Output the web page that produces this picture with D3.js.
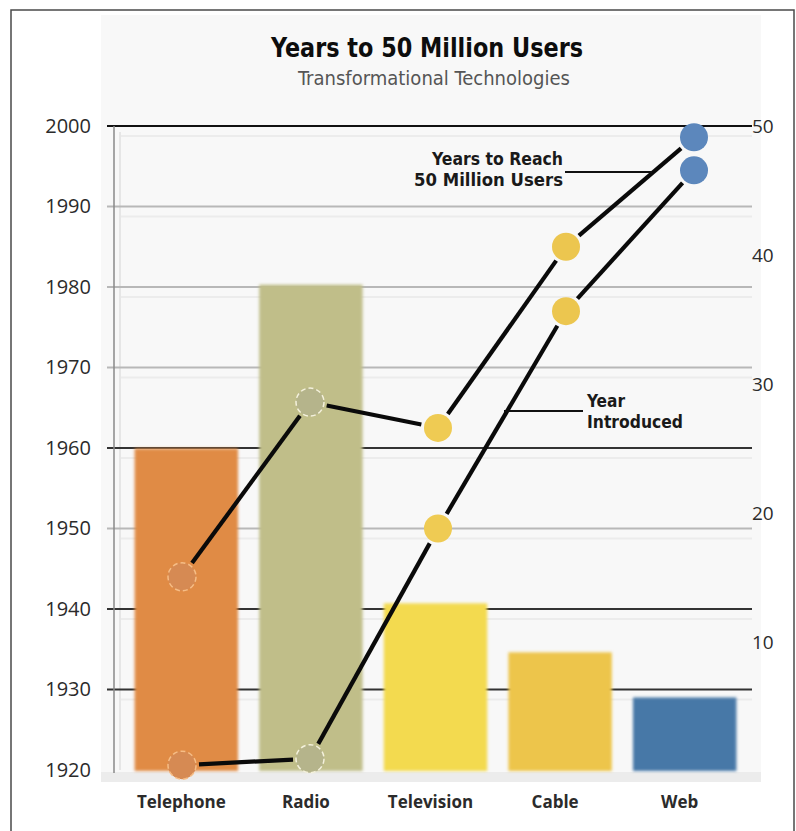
<!DOCTYPE html>
<html>
<head>
<meta charset="utf-8">
<script src="https://cdn.jsdelivr.net/npm/d3@7/dist/d3.min.js"></script>
<style>
  body { margin: 0; background: #fff; }
  svg { display: block; }
</style>
</head>
<body>
<div id="chart"></div>
<script>
// data
var technologies = ['Telephone', 'Radio', 'Television', 'Cable', 'Web'];
// bars, right axis: years to reach 50 million users (as drawn)
var yearsToReach = [25, 37.7, 13, 9.2, 5.7];
// lines, left axis
var yearIntroduced = [1920.6, 1921.4, 1950, 1977, 1994.5];
var yearReached = [1944, 1965.7, 1962.5, 1985, 1998.6];
var yearTicks = [1920, 1930, 1940, 1950, 1960, 1970, 1980, 1990, 2000];
var userTicks = [10, 20, 30, 40, 50];

var barColors = ['#e08b45', '#c0be89', '#f3da50', '#edc54b', '#4678a7'];
var dotColors = ['#d68a52', '#b5b48b', '#efcb52', '#ecc650', '#5b87bc'];
var darkLines = [2000, 1960, 1940, 1930];

var width = 796, height = 831;
var numFont = "'Open Sans', 'DejaVu Sans', sans-serif";
var narrowFont = "'Liberation Sans Narrow', 'DejaVu Sans Condensed', 'Liberation Sans', sans-serif";

var yYear = d3.scaleLinear().domain([1920, 2000]).range([770, 126]);
var yUsers = d3.scaleLinear().domain([0, 50]).range([771, 126]);
var xBand = d3.scaleBand().domain(technologies).range([124, 747])
    .paddingInner(0.17).paddingOuter(0.085);
var xPoint = d3.scalePoint().domain(technologies).range([182, 694]);

var svg = d3.select('#chart').append('svg')
    .attr('width', width)
    .attr('height', height);

var defs = svg.append('defs');
defs.append('filter').attr('id', 'soft')
    .attr('x', '-10%').attr('y', '-10%').attr('width', '120%').attr('height', '120%')
    .append('feGaussianBlur').attr('stdDeviation', 1.4);
defs.append('filter').attr('id', 'softer')
    .attr('x', '-20%').attr('y', '-20%').attr('width', '140%').attr('height', '140%')
    .append('feGaussianBlur').attr('stdDeviation', 0.7);

// outer frame
svg.append('rect')
    .attr('x', 11).attr('y', 10)
    .attr('width', 783).attr('height', 840)
    .attr('fill', 'none')
    .attr('stroke', '#4a4a4a')
    .attr('stroke-width', 1.5);

// plot panel
svg.append('rect')
    .attr('x', 101).attr('y', 15)
    .attr('width', 660).attr('height', 767)
    .attr('fill', '#f8f8f8');
svg.append('rect')
    .attr('x', 101).attr('y', 772)
    .attr('width', 660).attr('height', 10)
    .attr('fill', '#ececec');

// title
svg.append('text')
    .attr('x', 427).attr('y', 57)
    .attr('text-anchor', 'middle')
    .attr('textLength', 312)
    .attr('lengthAdjust', 'spacingAndGlyphs')
    .style('font-family', narrowFont)
    .style('font-size', '26px')
    .style('font-weight', 'bold')
    .style('fill', '#0d0d0d')
    .text('Years to 50 Million Users');

svg.append('text')
    .attr('x', 434).attr('y', 85)
    .attr('text-anchor', 'middle')
    .attr('textLength', 272)
    .attr('lengthAdjust', 'spacingAndGlyphs')
    .style('font-family', narrowFont)
    .style('font-size', '19px')
    .style('fill', '#555')
    .text('Transformational Technologies');

// grid
var grid = svg.append('g').attr('class', 'grid');
var gridTicks = yearTicks.filter(function (d) { return d > 1920; });

grid.selectAll('.shade')
    .data(gridTicks)
    .enter()
    .append('line')
    .attr('x1', 120).attr('x2', 752)
    .attr('y1', function (d) { return yYear(d) + 10; })
    .attr('y2', function (d) { return yYear(d) + 10; })
    .attr('stroke', '#ececec')
    .attr('stroke-width', 2);

grid.append('line')
    .attr('x1', 120).attr('x2', 120)
    .attr('y1', yYear(2000) + 6).attr('y2', yYear(1920))
    .attr('stroke', '#e6e6e6')
    .attr('stroke-width', 2);

grid.selectAll('.gridline')
    .data(gridTicks)
    .enter()
    .append('line')
    .attr('x1', 107).attr('x2', 752)
    .attr('y1', function (d) { return yYear(d); })
    .attr('y2', function (d) { return yYear(d); })
    .attr('stroke', function (d) {
        if (d == 2000) return '#111';
        return darkLines.indexOf(d) >= 0 ? '#333' : '#b8b8b8';
    })
    .attr('stroke-width', function (d) { return d == 2000 ? 2.2 : 1.8; });

grid.append('line')
    .attr('x1', 114).attr('x2', 114)
    .attr('y1', yYear(2000)).attr('y2', yYear(1920) + 3)
    .attr('stroke', '#8a8a8a')
    .attr('stroke-width', 1.5);

// left axis: year
var leftAxis = svg.append('g')
    .attr('transform', 'translate(114,0)')
    .call(d3.axisLeft(yYear).tickValues(yearTicks).tickSize(0).tickPadding(23).tickFormat(d3.format('d')));
leftAxis.select('.domain').remove();
leftAxis.selectAll('text')
    .style('font-family', numFont)
    .style('font-size', '20px')
    .style('fill', '#2b2b2b');

// right axis: years to reach 50M users
var rightAxis = svg.append('g')
    .attr('transform', 'translate(752,0)')
    .call(d3.axisRight(yUsers).tickValues(userTicks).tickSize(0).tickPadding(0));
rightAxis.select('.domain').remove();
rightAxis.selectAll('text')
    .style('font-family', numFont)
    .style('font-size', '19px')
    .style('fill', '#2b2b2b');

// bars
svg.append('g')
    .attr('filter', 'url(#soft)')
    .selectAll('rect')
    .data(technologies)
    .enter()
    .append('rect')
    .attr('x', function (d) { return xBand(d); })
    .attr('width', xBand.bandwidth())
    .attr('y', function (d, i) { return yUsers(yearsToReach[i]); })
    .attr('height', function (d, i) { return yUsers(0) - yUsers(yearsToReach[i]); })
    .attr('fill', function (d, i) { return barColors[i]; });

// lines: drawn as segments that stop short of the dots
function drawSegments(values) {
    var pts = technologies.map(function (t, i) { return [xPoint(t), yYear(values[i])]; });
    var segs = d3.pairs(pts).map(function (p) {
        var dx = p[1][0] - p[0][0], dy = p[1][1] - p[0][1];
        var len = Math.sqrt(dx * dx + dy * dy), gap = 17;
        return [p[0][0] + dx * gap / len, p[0][1] + dy * gap / len,
                p[1][0] - dx * gap / len, p[1][1] - dy * gap / len];
    });
    svg.append('g')
        .selectAll('line')
        .data(segs)
        .enter()
        .append('line')
        .attr('x1', function (s) { return s[0]; })
        .attr('y1', function (s) { return s[1]; })
        .attr('x2', function (s) { return s[2]; })
        .attr('y2', function (s) { return s[3]; })
        .attr('stroke', '#0a0a0a')
        .attr('stroke-width', 4.2);
}
drawSegments(yearIntroduced);
drawSegments(yearReached);

function drawDots(values) {
    svg.append('g')
        .attr('filter', 'url(#softer)')
        .selectAll('circle')
        .data(technologies)
        .enter()
        .append('circle')
        .attr('cx', function (d) { return xPoint(d); })
        .attr('cy', function (d, i) { return yYear(values[i]); })
        .attr('r', 14)
        .attr('fill', function (d, i) { return dotColors[i]; })
        .attr('stroke', function (d, i) { return i < 2 ? (i == 0 ? '#f6bd86' : '#f4f1dc') : 'none'; })
        .attr('stroke-width', 1.5)
        .attr('stroke-dasharray', '5,3');
}
drawDots(yearIntroduced);
drawDots(yearReached);

// annotations
var notes = svg.append('g')
    .style('font-family', narrowFont)
    .style('font-size', '17px')
    .style('font-weight', 'bold')
    .style('fill', '#1a1a1a');

function note(x, y, anchor, len, txt) {
    notes.append('text')
        .attr('x', x).attr('y', y)
        .attr('text-anchor', anchor)
        .attr('textLength', len)
        .attr('lengthAdjust', 'spacingAndGlyphs')
        .text(txt);
}
note(563, 165, 'end', 131, 'Years to Reach');
note(563, 186, 'end', 149, '50 Million Users');
svg.append('line')
    .attr('x1', 565).attr('x2', 652)
    .attr('y1', 172).attr('y2', 172)
    .attr('stroke', '#111').attr('stroke-width', 2);

note(587, 407, 'start', 38, 'Year');
note(587, 428, 'start', 96, 'Introduced');
svg.append('line')
    .attr('x1', 504).attr('x2', 583)
    .attr('y1', 411).attr('y2', 411)
    .attr('stroke', '#111').attr('stroke-width', 2);

// category labels
svg.append('g')
    .selectAll('text')
    .data(technologies)
    .enter()
    .append('text')
    .attr('x', function (d) { return xBand(d) + xBand.bandwidth() / 2 - 5; })
    .attr('y', 808)
    .attr('text-anchor', 'middle')
    .style('font-family', numFont)
    .style('font-size', '17px')
    .style('font-weight', 'bold')
    .style('fill', '#2b2b2b')
    .text(function (d) { return d; });
</script>
</body>
</html>
